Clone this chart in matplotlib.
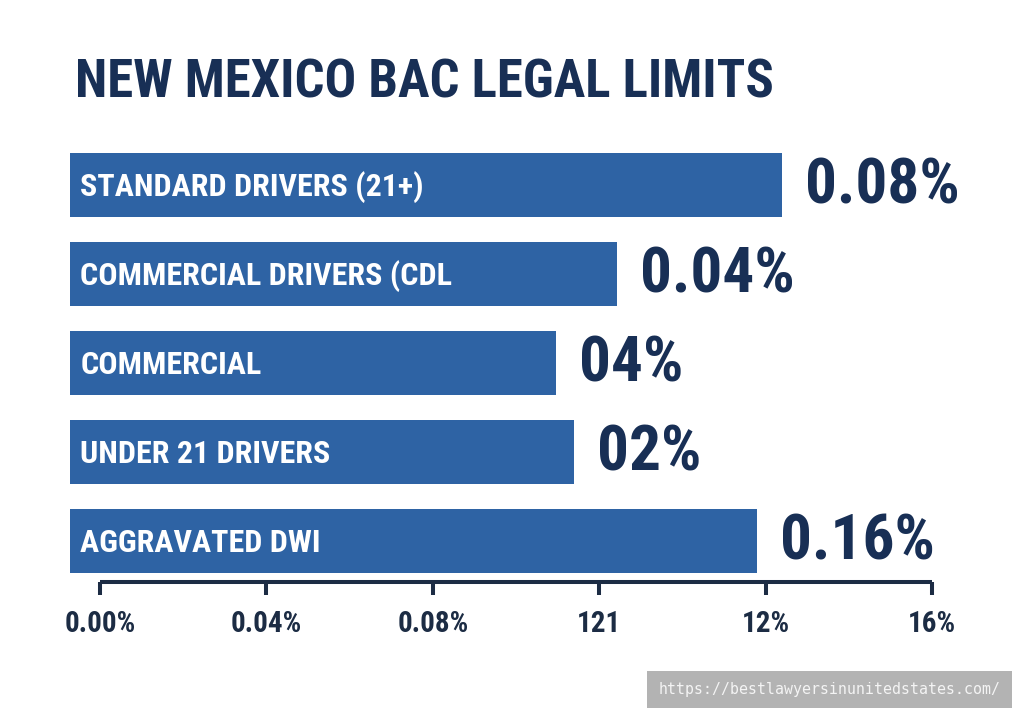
import matplotlib
matplotlib.use('Agg')
import matplotlib.pyplot as plt
from matplotlib import font_manager as fm
import numpy as np

# categories and values
categories = ['STANDARD DRIVERS (21+)', 'COMMERCIAL DRIVERS (CDL',
              'COMMERCIAL', 'UNDER 21 DRIVERS', 'AGGRAVATED DWI']
value_labels = ['0.08%', '0.04%', '04%', '02%', '0.16%']
# where each bar ends on the 0-16 axis scale
bar_ends = [13.12, 9.94, 8.77, 9.12, 12.63]
tick_labels = ['0.00%', '0.04%', '0.08%', '121', '12%', '16%']
tick_values = np.linspace(0, 16, len(tick_labels))

# pick a narrow bold face if one is there
installed = {f.name for f in fm.fontManager.ttflist}
family = 'DejaVu Sans'
for cand in ['Roboto Condensed', 'Liberation Sans Narrow', 'Open Sans Condensed']:
    if cand in installed:
        family = cand
        break
plt.rcParams['font.family'] = family

navy = '#182f55'
bar_color = '#2e63a4'
axis_color = '#1c2c44'

fig = plt.figure(figsize=(10.24, 7.21), dpi=100)
fig.patch.set_facecolor('white')
ax = fig.add_axes([0.0672, 0.1928, 0.9191, 0.6247])
ax.set_facecolor('none')

y = np.arange(len(categories))
bar_start = -0.58
ax.barh(y, np.array(bar_ends) - bar_start, left=bar_start, height=0.72,
        color=bar_color, zorder=2)

for yi, cat, end, lab in zip(y, categories, bar_ends, value_labels):
    ax.text(bar_start + 0.2, yi + 0.02, cat, color='white', fontsize=23,
            fontweight='bold', va='center', ha='left', zorder=3)
    ax.text(end + 0.44, yi + 0.02, lab, color=navy, fontsize=45.5,
            fontweight='bold', va='center', ha='left', zorder=3)

ax.set_xlim(-0.6, 17.5)
ax.set_ylim(4.46, -0.6)

for s in ['top', 'right', 'left']:
    ax.spines[s].set_visible(False)
ax.spines['bottom'].set_bounds(0, 16)
ax.spines['bottom'].set_linewidth(2.9)
ax.spines['bottom'].set_color(axis_color)
ax.spines['bottom'].set_capstyle('butt')
ax.set_yticks([])
ax.set_xticks(tick_values)
ax.set_xticklabels(tick_labels, fontsize=21, fontweight='bold', color=axis_color)
ax.tick_params(axis='x', length=9.4, width=2.9, color=axis_color, pad=11)

fig.text(75 / 1024, 1 - 97 / 721, 'NEW MEXICO BAC LEGAL LIMITS',
         fontsize=38, fontweight='bold', color=navy, ha='left', va='baseline')

fig.text(829.5 / 1024, 1 - 689.5 / 721, 'https://bestlawyersinunitedstates.com/',
         family='DejaVu Sans Mono', fontsize=10.7, color='#f4f4f4',
         ha='center', va='center',
         bbox=dict(boxstyle='square,pad=0.75', facecolor='#b3b3b3',
                   edgecolor='none'))

fig.savefig('out.png', dpi=100)
